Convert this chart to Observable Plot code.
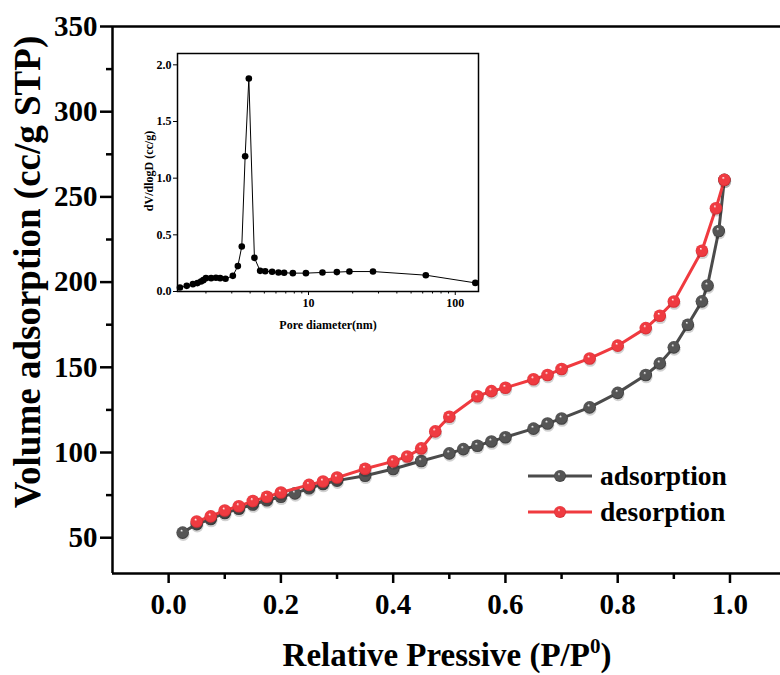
<!DOCTYPE html>
<html><head><meta charset="utf-8">
<script src="https://cdn.jsdelivr.net/npm/d3@7"></script>
<script src="https://cdn.jsdelivr.net/npm/@observablehq/plot@0.6"></script>
<style>
body{margin:0;background:#fff;}
#wrap{position:relative;width:780px;height:675px;overflow:hidden;background:#fff;}
#wrap > svg{position:absolute;}
</style></head><body><div id="wrap"></div>
<script>
// ---- data ----
const pressureAds = [0.025,0.05,0.075,0.1,0.125,0.15,0.175,0.2,0.225,0.25,0.275,0.3,0.35,0.4,0.45,0.5,0.525,0.55,0.575,0.6,0.65,0.675,0.7,0.75,0.8,0.85,0.875,0.9,0.925,0.95,0.96,0.98,0.99];
const volumeAds   = [53,58,61,64.5,67,69.5,72,74,76,79,81.5,83.5,86.4,90.3,95,99.5,102,104,106.5,109,114,117,120,126.5,135,145.5,152.3,161.7,175,188.7,198,230,260];
const pressureDes = [0.05,0.075,0.1,0.125,0.15,0.175,0.2,0.25,0.275,0.3,0.35,0.4,0.425,0.45,0.475,0.5,0.55,0.575,0.6,0.65,0.675,0.7,0.75,0.8,0.85,0.875,0.9,0.95,0.975,0.99];
const volumeDes   = [59.5,62.5,66,68.5,71.5,74,76.5,81,83,85.3,90.5,94.8,97.7,102.4,112.4,121,133,136,138,143,145.5,149,155.2,162.7,173,180.3,188.6,218.4,243.3,260];
const poreDiameter = [1.33,1.48,1.63,1.75,1.85,1.92,2.0,2.17,2.34,2.5,2.72,3.05,3.3,3.51,3.7,3.92,4.28,4.68,5.07,5.65,6.24,6.82,7.82,9.6,12.45,15.6,19.0,27.5,63,137];
const poreDV       = [0.035,0.05,0.065,0.074,0.088,0.10,0.118,0.118,0.121,0.118,0.112,0.138,0.224,0.397,1.194,1.879,0.297,0.182,0.179,0.174,0.168,0.165,0.162,0.162,0.168,0.171,0.176,0.176,0.144,0.076];
const xTicks = [0,0.2,0.4,0.6,0.8,1.0];
const xMinor = [0.1,0.3,0.5,0.7,0.9];
const yTicks = [50,100,150,200,250,300,350];
const yMinor = [75,125,175,225,275,325];
const xDomain = [-0.1,1.09];
const yDomain = [29,350];
const insetXTicks = [10,100];
const insetXMinor = [2,3,4,5,6,7,8,9,20,30,40,50,60,70,80,90];
const insetYTicks = [0,0.5,1,1.5,2];
const insetXDomain = [1.28,144];
const insetYDomain = [0,2.1];
const seriesNames = ["adsorption","desorption"];
const seriesColors = ["#4b4b4b","#f03a3f"];

const ads = pressureAds.map((p,i)=>({p, v: volumeAds[i]}));
const des = pressureDes.map((p,i)=>({p, v: volumeDes[i]}));
const pore = poreDiameter.map((d,i)=>({d, y: poreDV[i]}));

const FONT = "'Liberation Serif','Times New Roman',serif";
const wrap = document.getElementById("wrap");

const main = Plot.plot({
  width: 780, height: 675,
  marginLeft: 112, marginRight: 0, marginTop: 26, marginBottom: 102,
  x: {domain: xDomain},
  y: {domain: yDomain},
  style: {fontFamily: FONT, fontWeight: "bold", color: "#000", background: "#fff", overflow: "visible"},
  marks: [
    Plot.axisX(xTicks, {tickSize: 10, tickPadding: 10, tickFormat: d3.format(".1f"), fontSize: 29, fontWeight: "bold", strokeWidth: 2.5, label: null}),
    Plot.axisX(xMinor, {tickSize: 6, text: null, strokeWidth: 2.5, label: null}),
    Plot.axisY(yTicks, {tickSize: 12, tickPadding: 3, fontSize: 29, fontWeight: "bold", strokeWidth: 2.5, label: null}),
    Plot.axisY(yMinor, {tickSize: 6, text: null, strokeWidth: 2.5, label: null}),
    Plot.ruleX([xDomain[0]], {strokeWidth: 2.5}),
    Plot.ruleY([yDomain[0]], {strokeWidth: 2.5}),
    Plot.ruleY([yDomain[1]], {strokeWidth: 2.5}),
    Plot.line(ads, {x: "p", y: "v", stroke: seriesColors[0], strokeWidth: 3}),
    Plot.dot(ads, {x: "p", y: "v", r: 6.3, dx: 0.5, dy: 2, fill: "#000", fillOpacity: 0.18}),
    Plot.dot(ads, {x: "p", y: "v", r: 6.3, fill: "url(#ballGrey)"}),
    Plot.line(des, {x: "p", y: "v", stroke: seriesColors[1], strokeWidth: 3}),
    Plot.dot(des, {x: "p", y: "v", r: 6.3, dx: 0.5, dy: 2, fill: "#000", fillOpacity: 0.18}),
    Plot.dot(des, {x: "p", y: "v", r: 6.3, fill: "url(#ballRed)"})
  ]
});
main.style.left = "0px"; main.style.top = "0px";
wrap.appendChild(main);

const ms = d3.select(main);
const defs = ms.insert("defs", ":first-child");
function ball(id, base, dark) {
  const g = defs.append("radialGradient").attr("id", id)
    .attr("cx", "0.5").attr("cy", "0.5").attr("r", "0.55").attr("fx", "0.4").attr("fy", "0.32");
  g.append("stop").attr("offset", "0").attr("stop-color", "#ffffff");
  g.append("stop").attr("offset", "0.22").attr("stop-color", base);
  g.append("stop").attr("offset", "0.75").attr("stop-color", base);
  g.append("stop").attr("offset", "1").attr("stop-color", dark);
}
ball("ballGrey", "#555555", "#2e2e2e");
ball("ballRed", "#ef3b41", "#c4252b");

// axis titles
const xt = ms.append("text").attr("x", 447).attr("y", 666).attr("text-anchor", "middle")
  .attr("font-family", FONT).attr("font-weight", "bold").attr("font-size", 33).attr("fill", "#000");
xt.append("tspan").text("Relative Pressive (P/P");
xt.append("tspan").attr("dy", -13).attr("font-size", 21).text("0");
xt.append("tspan").attr("dy", 13).text(")");
ms.append("text").attr("transform", "translate(40,272) rotate(-90)").attr("text-anchor", "middle")
  .attr("font-family", FONT).attr("font-weight", "bold").attr("font-size", 37).attr("fill", "#000")
  .text("Volume adsorption (cc/g STP)");

// legend
const lg = ms.append("g").attr("font-family", FONT).attr("font-weight", "bold").attr("font-size", 27.5).attr("text-anchor", "start");
seriesNames.forEach((name, i) => {
  const y = 476 + i * 36;
  lg.append("line").attr("x1", 528).attr("x2", 592).attr("y1", y).attr("y2", y)
    .attr("stroke", seriesColors[i]).attr("stroke-width", 3);
  lg.append("circle").attr("cx", 560).attr("cy", y).attr("r", 6)
    .attr("fill", i === 0 ? "url(#ballGrey)" : "url(#ballRed)");
  lg.append("text").attr("x", 600).attr("y", y).attr("dy", "0.32em").attr("fill", "#000").text(name);
});

// ---- inset ----
const inset = Plot.plot({
  width: 346, height: 283,
  marginLeft: 40, marginRight: 5, marginTop: 5, marginBottom: 40,
  x: {type: "log", domain: insetXDomain},
  y: {domain: insetYDomain},
  style: {fontFamily: FONT, fontWeight: "bold", color: "#000", background: "#fff", overflow: "visible"},
  marks: [
    Plot.axisX(insetXTicks, {tickSize: 4, tickPadding: 3, tickFormat: d => String(d), fontSize: 12, fontWeight: "bold", label: null}),
    Plot.axisX(insetXMinor, {tickSize: 2.5, text: null, label: null}),
    Plot.axisY(insetYTicks, {tickSize: 4, tickPadding: 2, tickFormat: d3.format(".1f"), fontSize: 12, fontWeight: "bold", label: null}),
    Plot.frame({strokeWidth: 1.5}),
    Plot.line(pore, {x: "d", y: "y", stroke: "#000", strokeWidth: 1}),
    Plot.dot(pore, {x: "d", y: "y", r: 3.3, fill: "#000"})
  ]
});
inset.style.left = "137px"; inset.style.top = "48px";
wrap.appendChild(inset);
const is = d3.select(inset);
is.append("text").attr("x", 191).attr("y", 281).attr("text-anchor", "middle")
  .attr("font-family", FONT).attr("font-weight", "bold").attr("font-size", 12).attr("fill", "#000")
  .text("Pore diameter(nm)");
is.append("text").attr("transform", "translate(16,123) rotate(-90)").attr("text-anchor", "middle")
  .attr("font-family", FONT).attr("font-weight", "bold").attr("font-size", 12).attr("fill", "#000")
  .text("dV/dlogD (cc/g)");
</script></body></html>
